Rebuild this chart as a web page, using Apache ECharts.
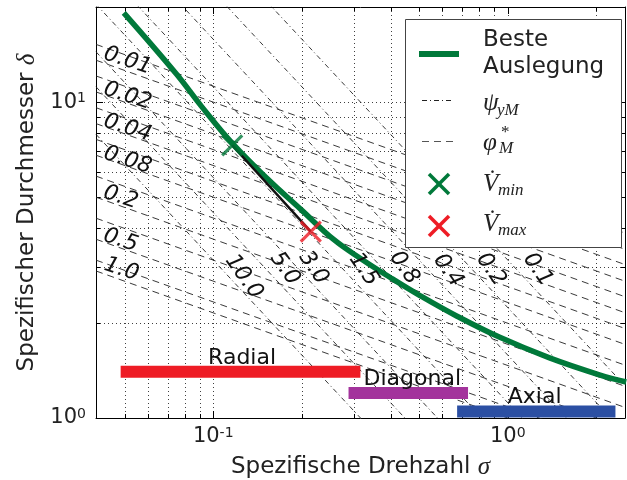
<!DOCTYPE html>
<html><head><meta charset="utf-8">
<script src="https://cdn.jsdelivr.net/npm/echarts@6/dist/echarts.min.js"></script>
<style>html,body{margin:0;padding:0;background:#fff}#c{width:627px;height:480px}</style>
</head><body><div id="c"></div>
<script>
// ---------- data ----------
const xRange = [0.04, 2.5];
const yRange = [1, 20];
const xGrid = [0.05, 0.06, 0.07, 0.08, 0.09, 0.1, 0.2, 0.3, 0.4, 0.5, 0.6, 0.7, 0.8, 0.9, 1, 2];
const yGrid = [2, 3, 4, 5, 6, 7, 8, 9, 10];
const xMajor = [0.1, 1];
const yMajor = [10];

const bestSigma = [0.0497, 0.0750, 0.0911, 0.1168, 0.1534, 0.1983, 0.2563, 0.3162, 0.4000, 0.5000, 0.6725, 0.9397, 1.386, 2.046, 2.523];
const bestDelta = [19.16, 12.27, 9.712, 7.357, 5.696, 4.575, 3.674, 3.20, 2.78, 2.45, 2.10, 1.80, 1.55, 1.37, 1.30];

const opSigma = [0.116, 0.2144];   // V_min, V_max
const opDelta = [7.30, 3.89];

// labelled phi lines (dashed)
const phiNames = ['0.01', '0.02', '0.04', '0.08', '0.2', '0.5', '1.0'];
const phiStartDelta = [13.57, 10.77, 8.55, 6.79, 5.00, 3.68, 2.92];   // at sigma = 0.04
const phiEndDelta = [3.42, 2.71, 2.154, 1.71, 1.26, 0.928, 0.737];    // at sigma = 2.5
const phiLabelSigma = [0.0512, 0.0512, 0.0512, 0.0512, 0.0485, 0.0485, 0.0488];
const phiLabelDelta = [13.5, 10.45, 8.27, 6.54, 4.99, 3.65, 2.95];
// unlabelled intermediate phi lines
const phiMidStartDelta = [15.23, 12.10, 9.60, 7.62, 5.83, 4.29, 3.16];
const phiMidEndDelta = [3.85, 3.06, 2.42, 1.92, 1.47, 1.08, 0.80];

// psi lines (dash-dot)
const psiNames = ['10.0', '5.0', '3.0', '1.5', '0.8', '0.4', '0.2', '0.1'];
const psiStartDelta = [7.906, 11.18, 14.43, 20.41, 27.95, 39.53, 55.9, 79.06]; // at sigma = 0.04
const psiEndDelta = [0.1265, 0.1789, 0.2309, 0.3266, 0.4472, 0.6325, 0.8944, 1.265]; // at sigma = 2.5
const psiLabelSigma = [0.127, 0.175, 0.219, 0.324, 0.445, 0.627, 0.876, 1.263];
const psiLabelDelta = [2.80, 2.97, 2.99, 2.95, 2.99, 2.93, 2.95, 2.95];

const regimeNames = ['Radial', 'Diagonal', 'Axial'];
const regimeFrom = [0.0485, 0.288, 0.673];
const regimeTo = [0.316, 0.733, 2.32];
const regimeDelta = [1.40, 1.20, 1.048];
const regimeLabelSigma = [0.1253, 0.474, 1.234];
const regimeLabelDelta = [1.55, 1.33, 1.166];

// ---------- styles ----------
const GREEN = '#00793a', RED = '#ee1c25', PURPLE = '#a3339c', BLUE = '#2b4fa3', INK = '#222';
const SANS = '"DejaVu Sans"', SERIF = '"Liberation Serif"';

const chart = echarts.init(document.getElementById('c'), null, {renderer: 'canvas'});

function isPow10(v) {
  const e = Math.round(Math.log10(v));
  return Math.abs(v / Math.pow(10, e) - 1) < 1e-6 ? e : null;
}
function pow10Label(v) {
  const e = isPow10(v);
  return e === null ? '' : '10{s|' + e + '}';
}
const tickRich = {
  s: {fontSize: 14, fontFamily: SANS, color: INK, verticalAlign: 'top', lineHeight: 14}
};

const series = [];

// grid + ticks (x)
series.push({
  type: 'custom', z: 1, silent: true, clip: false,
  data: xGrid.map(v => [v, 1]),
  encode: {x: 0, y: 1},
  renderItem: (params, api) => {
    const cs = params.coordSys;
    const v = api.value(0);
    const px = Math.round(api.coord([v, 1])[0]) + 0.5;
    const len = xMajor.indexOf(v) >= 0 ? 7 : 4;
    const top = cs.y, bot = cs.y + cs.height;
    return {type: 'group', children: [
      {type: 'line', shape: {x1: px, y1: top, x2: px, y2: bot}, style: {stroke: '#000', lineWidth: 1, lineDash: [1, 3], opacity: 0.75}},
      {type: 'line', shape: {x1: px, y1: bot, x2: px, y2: bot - len}, style: {stroke: '#000', lineWidth: 1}},
      {type: 'line', shape: {x1: px, y1: top, x2: px, y2: top + len}, style: {stroke: '#000', lineWidth: 1}}
    ]};
  }
});
// grid + ticks (y)
series.push({
  type: 'custom', z: 1, silent: true, clip: false,
  data: yGrid.map(v => [0.1, v]),
  encode: {x: 0, y: 1},
  renderItem: (params, api) => {
    const cs = params.coordSys;
    const v = api.value(1);
    const py = Math.round(api.coord([0.1, v])[1]) + 0.5;
    const len = yMajor.indexOf(v) >= 0 ? 7 : 4;
    const l = cs.x, r = cs.x + cs.width;
    return {type: 'group', children: [
      {type: 'line', shape: {x1: l, y1: py, x2: r, y2: py}, style: {stroke: '#000', lineWidth: 1, lineDash: [1, 3], opacity: 0.75}},
      {type: 'line', shape: {x1: l, y1: py, x2: l + len, y2: py}, style: {stroke: '#000', lineWidth: 1}},
      {type: 'line', shape: {x1: r, y1: py, x2: r - len, y2: py}, style: {stroke: '#000', lineWidth: 1}}
    ]};
  }
});

function straight(d0, d1, style) {
  return {
    type: 'line', z: 2, silent: true, symbol: 'none', clip: true,
    data: [[xRange[0], d0], [xRange[1], d1]],
    lineStyle: style
  };
}
const dashStyle = {color: '#222', width: 0.9, type: [7, 5]};
const dashDotStyle = {color: '#222', width: 0.9, type: [5, 3, 1, 3]};
phiStartDelta.forEach((d, i) => series.push(straight(d, phiEndDelta[i], dashStyle)));
phiMidStartDelta.forEach((d, i) => series.push(straight(d, phiMidEndDelta[i], dashStyle)));
psiStartDelta.forEach((d, i) => series.push(straight(d, psiEndDelta[i], dashDotStyle)));

// regime bars
const regimeColors = [RED, PURPLE, BLUE];
regimeNames.forEach((n, i) => {
  series.push({
    type: 'line', z: 3, silent: true, symbol: 'none',
    data: [[regimeFrom[i], regimeDelta[i]], [regimeTo[i], regimeDelta[i]]],
    lineStyle: {color: regimeColors[i], width: 12, cap: 'butt'}
  });
});

// best design curve
series.push({
  type: 'line', z: 4, silent: true, symbol: 'none', smooth: 0.4,
  data: bestSigma.map((s, i) => [s, bestDelta[i]]),
  lineStyle: {color: GREEN, width: 5.5, cap: 'butt'}
});
// operating line
series.push({
  type: 'line', z: 5, silent: true, symbol: 'none',
  data: opSigma.map((s, i) => [s, opDelta[i]]),
  lineStyle: {color: '#111', width: 2.5}
});
// markers
const XPATH = 'path://M0 0L20 20M20 0L0 20';
series.push({
  type: 'scatter', z: 6, silent: true,
  data: opSigma.map((s, i) => ({value: [s, opDelta[i]], itemStyle: {borderColor: i === 0 ? GREEN : RED}})),
  symbol: XPATH, symbolSize: 20,
  itemStyle: {color: 'rgba(0,0,0,0)', borderWidth: 3.2}
});

// text labels placed through the axes (custom series)
function textSeries(sig, del, names, rotDeg, font) {
  return {
    type: 'custom', z: 7, silent: true, clip: false,
    data: sig.map((s, i) => [s, del[i], i]),
    encode: {x: 0, y: 1},
    renderItem: (params, api) => {
      const p = api.coord([api.value(0), api.value(1)]);
      return {type: 'text', x: p[0], y: p[1], rotation: rotDeg * Math.PI / 180,
        style: Object.assign({text: names[api.value(2)], align: 'center', verticalAlign: 'middle', fill: '#111'}, font)};
    }
  };
}
const lineLabelFont = {fontFamily: SANS, fontSize: 22, fontStyle: 'oblique'};
series.push(textSeries(phiLabelSigma, phiLabelDelta, phiNames, -18, lineLabelFont));
series.push(textSeries(psiLabelSigma, psiLabelDelta, psiNames, -55, lineLabelFont));
series.push(textSeries(regimeLabelSigma, regimeLabelDelta, regimeNames, 0, {fontFamily: SANS, fontSize: 22}));

function axisCommon(extra) {
  return Object.assign({
    type: 'log', logBase: 10,
    axisLine: {show: true, onZero: false, lineStyle: {color: '#000', width: 1}},
    axisTick: {show: false},
    splitLine: {show: false},
    minorTick: {show: false},
    minorSplitLine: {show: false}
  }, extra);
}

const xName = 'Spezifische Drehzahl {m|σ}';
const yName = 'Spezifischer Durchmesser {m|δ}';

const option = {
  animation: false,
  backgroundColor: '#fff',
  grid: {left: 96, right: 2, top: 7, bottom: 62, containLabel: false, outerBoundsMode: 'none'},
  xAxis: [
    axisCommon({min: xRange[0], max: xRange[1], position: 'bottom',
      axisLabel: {formatter: pow10Label, fontSize: 21, fontFamily: SANS, color: INK, margin: 8, rich: tickRich, showMinLabel: true, showMaxLabel: true},
      name: xName, nameLocation: 'middle', nameGap: 37,
      nameTextStyle: {fontSize: 23, fontFamily: SANS, color: INK,
        rich: {m: {fontSize: 25, fontFamily: SERIF, fontStyle: 'italic', color: INK}}}}),
    axisCommon({min: xRange[0], max: xRange[1], position: 'top', axisLabel: {show: false}})
  ],
  yAxis: [
    axisCommon({min: yRange[0], max: yRange[1], position: 'left',
      axisLabel: {formatter: pow10Label, fontSize: 21, fontFamily: SANS, color: INK, margin: 10, rich: tickRich},
      name: yName, nameLocation: 'middle', nameGap: 56,
      nameTextStyle: {fontSize: 23, fontFamily: SANS, color: INK,
        rich: {m: {fontSize: 25, fontFamily: SERIF, fontStyle: 'italic', color: INK}}}}),
    axisCommon({min: yRange[0], max: yRange[1], position: 'right', axisLabel: {show: false}})
  ],
  series: series,
  graphic: [
    {type: 'rect', z: 100, shape: {x: 405.5, y: 19.5, width: 216, height: 228}, style: {fill: '#fff', stroke: '#444', lineWidth: 1}},
    {type: 'line', z: 101, shape: {x1: 419, y1: 54, x2: 459, y2: 54}, style: {stroke: GREEN, lineWidth: 6}},
    {type: 'text', z: 101, x: 483, y: 40, style: {text: 'Beste', fontSize: 23, fontFamily: SANS, fill: INK, verticalAlign: 'middle'}},
    {type: 'text', z: 101, x: 483, y: 67, style: {text: 'Auslegung', fontSize: 23, fontFamily: SANS, fill: INK, verticalAlign: 'middle'}},
    {type: 'line', z: 101, shape: {x1: 422, y1: 100.5, x2: 452, y2: 100.5}, style: {stroke: '#222', lineWidth: 1, lineDash: [5, 3, 1, 3]}},
    {type: 'text', z: 101, x: 483, y: 103, style: {text: 'ψ', fontSize: 25, fontFamily: SERIF, fontStyle: 'italic', fill: INK, verticalAlign: 'middle'}},
    {type: 'text', z: 101, x: 497, y: 111, style: {text: 'yM', fontSize: 17, fontFamily: SERIF, fontStyle: 'italic', fill: INK, verticalAlign: 'middle'}},
    {type: 'line', z: 101, shape: {x1: 422, y1: 141.5, x2: 457, y2: 141.5}, style: {stroke: '#555', lineWidth: 1.2, lineDash: [7, 5]}},
    {type: 'text', z: 101, x: 483, y: 143, style: {text: 'φ', fontSize: 25, fontFamily: SERIF, fontStyle: 'italic', fill: INK, verticalAlign: 'middle'}},
    {type: 'text', z: 101, x: 501, y: 133, style: {text: '*', fontSize: 17, fontFamily: SERIF, fill: INK, verticalAlign: 'middle'}},
    {type: 'text', z: 101, x: 499, y: 149, style: {text: 'M', fontSize: 17, fontFamily: SERIF, fontStyle: 'italic', fill: INK, verticalAlign: 'middle'}},
    {type: 'polyline', z: 101, shape: {points: [[429, 174], [449, 194]]}, style: {stroke: GREEN, lineWidth: 3.5}},
    {type: 'polyline', z: 101, shape: {points: [[449, 174], [429, 194]]}, style: {stroke: GREEN, lineWidth: 3.5}},
    {type: 'text', z: 101, x: 483, y: 184, style: {text: 'V̇', fontSize: 25, fontFamily: SERIF, fontStyle: 'italic', fill: INK, verticalAlign: 'middle'}},
    {type: 'text', z: 101, x: 498, y: 191, style: {text: 'min', fontSize: 17, fontFamily: SERIF, fontStyle: 'italic', fill: INK, verticalAlign: 'middle'}},
    {type: 'polyline', z: 101, shape: {points: [[429, 216], [449, 236]]}, style: {stroke: RED, lineWidth: 3.5}},
    {type: 'polyline', z: 101, shape: {points: [[449, 216], [429, 236]]}, style: {stroke: RED, lineWidth: 3.5}},
    {type: 'text', z: 101, x: 483, y: 224, style: {text: 'V̇', fontSize: 25, fontFamily: SERIF, fontStyle: 'italic', fill: INK, verticalAlign: 'middle'}},
    {type: 'text', z: 101, x: 498, y: 231, style: {text: 'max', fontSize: 17, fontFamily: SERIF, fontStyle: 'italic', fill: INK, verticalAlign: 'middle'}}
  ]
};
chart.setOption(option);
</script>
</body></html>
